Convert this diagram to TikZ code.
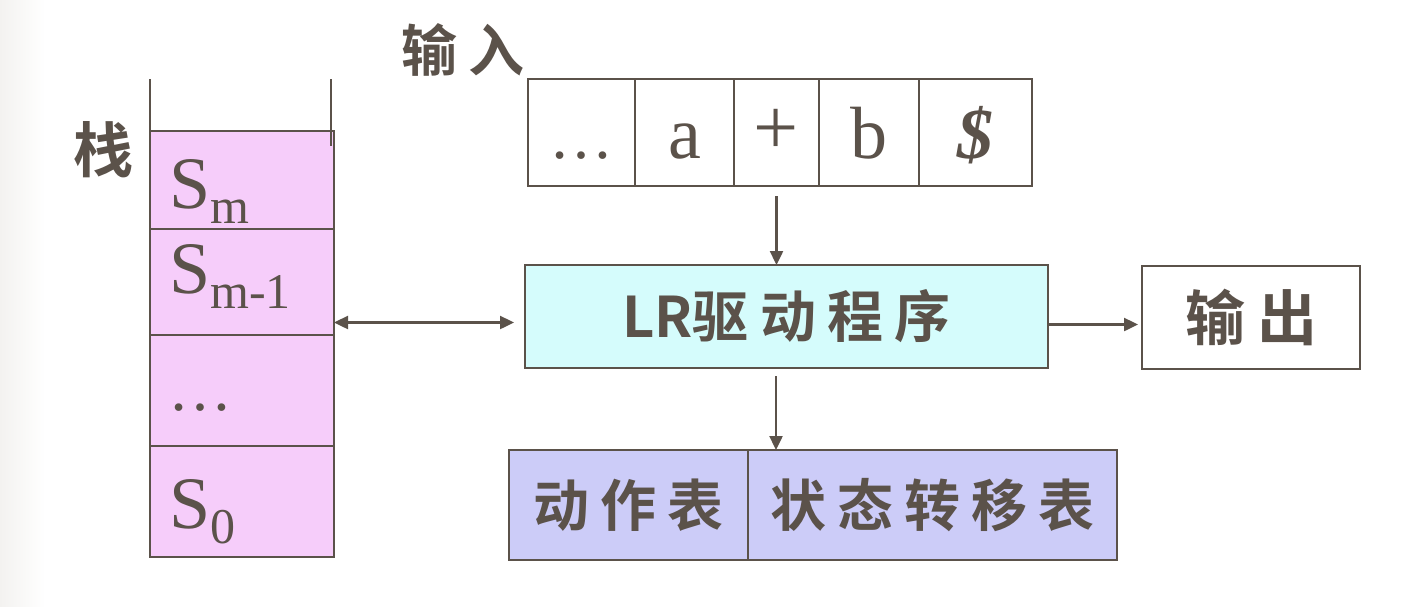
\documentclass[tikz,border=0pt]{standalone}
\usepackage{fontspec}
\setmainfont{Liberation Serif}
\newfontfamily\cjk{Noto Sans CJK SC}[LetterSpace=20, BoldFont={Noto Sans CJK SC Bold}]
\newfontfamily\cjktight{Noto Sans CJK SC}[BoldFont={Noto Sans CJK SC Bold}]
\usetikzlibrary{arrows.meta,calc}
\definecolor{ink}{HTML}{5B524A}
\definecolor{stackpink}{HTML}{F6CDFA}
\definecolor{drivecyan}{HTML}{D5FCFC}
\definecolor{tablelav}{HTML}{CCCCF8}
\definecolor{edgegray}{HTML}{F3F2F0}
\tikzset{
  box/.style={draw=ink, line width=2.6pt, inner sep=0pt, outer sep=0pt, anchor=north west},
  stackcell/.style={box, fill=stackpink, minimum width=184pt},
  tapecell/.style={box, fill=white, minimum height=107pt},
  tip/.style={Triangle[length=14pt,width=13pt]},
  arr/.style={draw=ink, line width=2.4pt, -{Triangle[length=14pt,width=13pt]}},
  dblarr/.style={draw=ink, line width=2.4pt, {Triangle[length=14pt,width=13pt]}-{Triangle[length=14pt,width=13pt]}},
  cjktext/.style={text=ink, inner sep=0pt, font=\cjk\bfseries\fontsize{56pt}{56pt}\selectfont},
  sertext/.style={text=ink, inner sep=0pt, anchor=base west},
  tapetext/.style={text=ink, inner sep=0pt, anchor=base},
}
\newcommand{\Ssub}[1]{{\fontsize{74pt}{74pt}\selectfont S}\raisebox{-15pt}{\fontsize{50pt}{50pt}\selectfont #1}}
\begin{document}
\begin{tikzpicture}[x=1pt,y=-1pt]
\useasboundingbox (0,0) rectangle (1412,606);
\shade[left color=edgegray, right color=white] (0,0) rectangle (45,606);

% stack
\node[stackcell, minimum height=98pt]  (s1) at (150,131) {};
\node[stackcell, minimum height=106pt] (s2) at (150,229) {};
\node[stackcell, minimum height=111pt] (s3) at (150,335) {};
\node[stackcell, minimum height=111pt] (s4) at (150,446) {};
\draw[ink, line width=2.6pt] (s1.north west) -- ++(0,-52);
\coordinate (stop) at (331,79);
\draw[ink, line width=2.6pt] (stop) -- (331,146);
\node[sertext] (sm) at (169,208) {\Ssub{m}};
\node[sertext] (sm1) at (169,293) {\Ssub{m-1}};
\node[sertext] (sdots) at (168,410) {\fontsize{64pt}{64pt}\selectfont …};
\node[sertext] (s0) at (169,528) {\Ssub{0}};
\node[cjktext] (stacklbl) at (103,150) {\fontsize{60pt}{60pt}\selectfont 栈};

% input tape
\node[cjktext] (inlbl) at (463,50) {输入};
\node[tapecell, minimum width=107pt] (tdots) at (528,79) {};
\node[tapecell, minimum width=99pt] (ta) at (635,79) {};
\node[tapecell, minimum width=85pt] (tplus) at (734,79) {};
\node[tapecell, minimum width=100pt] (tb) at (819,79) {};
\node[tapecell, minimum width=113pt] (tdollar) at (919,79) {};
\node[tapetext] at (tdots.center |- 0,158) {\fontsize{64pt}{64pt}\selectfont …};
\node[tapetext] at (ta.center |- 0,158) {\fontsize{74pt}{74pt}\selectfont a};
\node[tapetext] at (tplus.center |- 0,154) {\fontsize{80pt}{80pt}\selectfont +};
\node[tapetext] at (tb.center |- 0,158) {\fontsize{74pt}{74pt}\selectfont b};
\node[tapetext] at (tdollar.center |- 0,158) {\fontsize{72pt}{72pt}\selectfont\itshape\bfseries \$};

% driver
\node[box, fill=drivecyan, minimum width=523pt, minimum height=103pt] (lr) at (525,265) {};
\node[cjktext] (lrtxt) at (lr.center) {{\cjktight LR}驱动程序};
\node[box, fill=white, minimum width=218pt, minimum height=103pt] (out) at (1142,266) {};
\node[cjktext] (outtxt) at (out.center) {\fontsize{60pt}{60pt}\selectfont 输出};

% tables
\node[box, fill=tablelav, minimum width=239pt, minimum height=110pt] (act) at (509,450) {};
\node[box, fill=tablelav, minimum width=369pt, minimum height=110pt] (goto) at (748,450) {};
\node[cjktext] (acttxt) at (act.center) {动作表};
\node[cjktext] (gototxt) at (goto.center) {状态转移表};

% connectors
\draw[arr, shorten <=10pt] (tplus.south) -- (tplus.south |- lr.north);
\coordinate (dl) at ($(lr.west)+(0,6)$);
\draw[dblarr, shorten >=11pt] (dl -| s2.east) -- (dl);
\coordinate (dr) at ($(lr.east)+(0,8)$);
\draw[arr, shorten >=4pt] (dr) -- (dr -| out.west);
\coordinate (dd) at (776,368);
\draw[arr, shorten <=8pt] (dd) -- (dd |- goto.north);
\end{tikzpicture}
\end{document}
